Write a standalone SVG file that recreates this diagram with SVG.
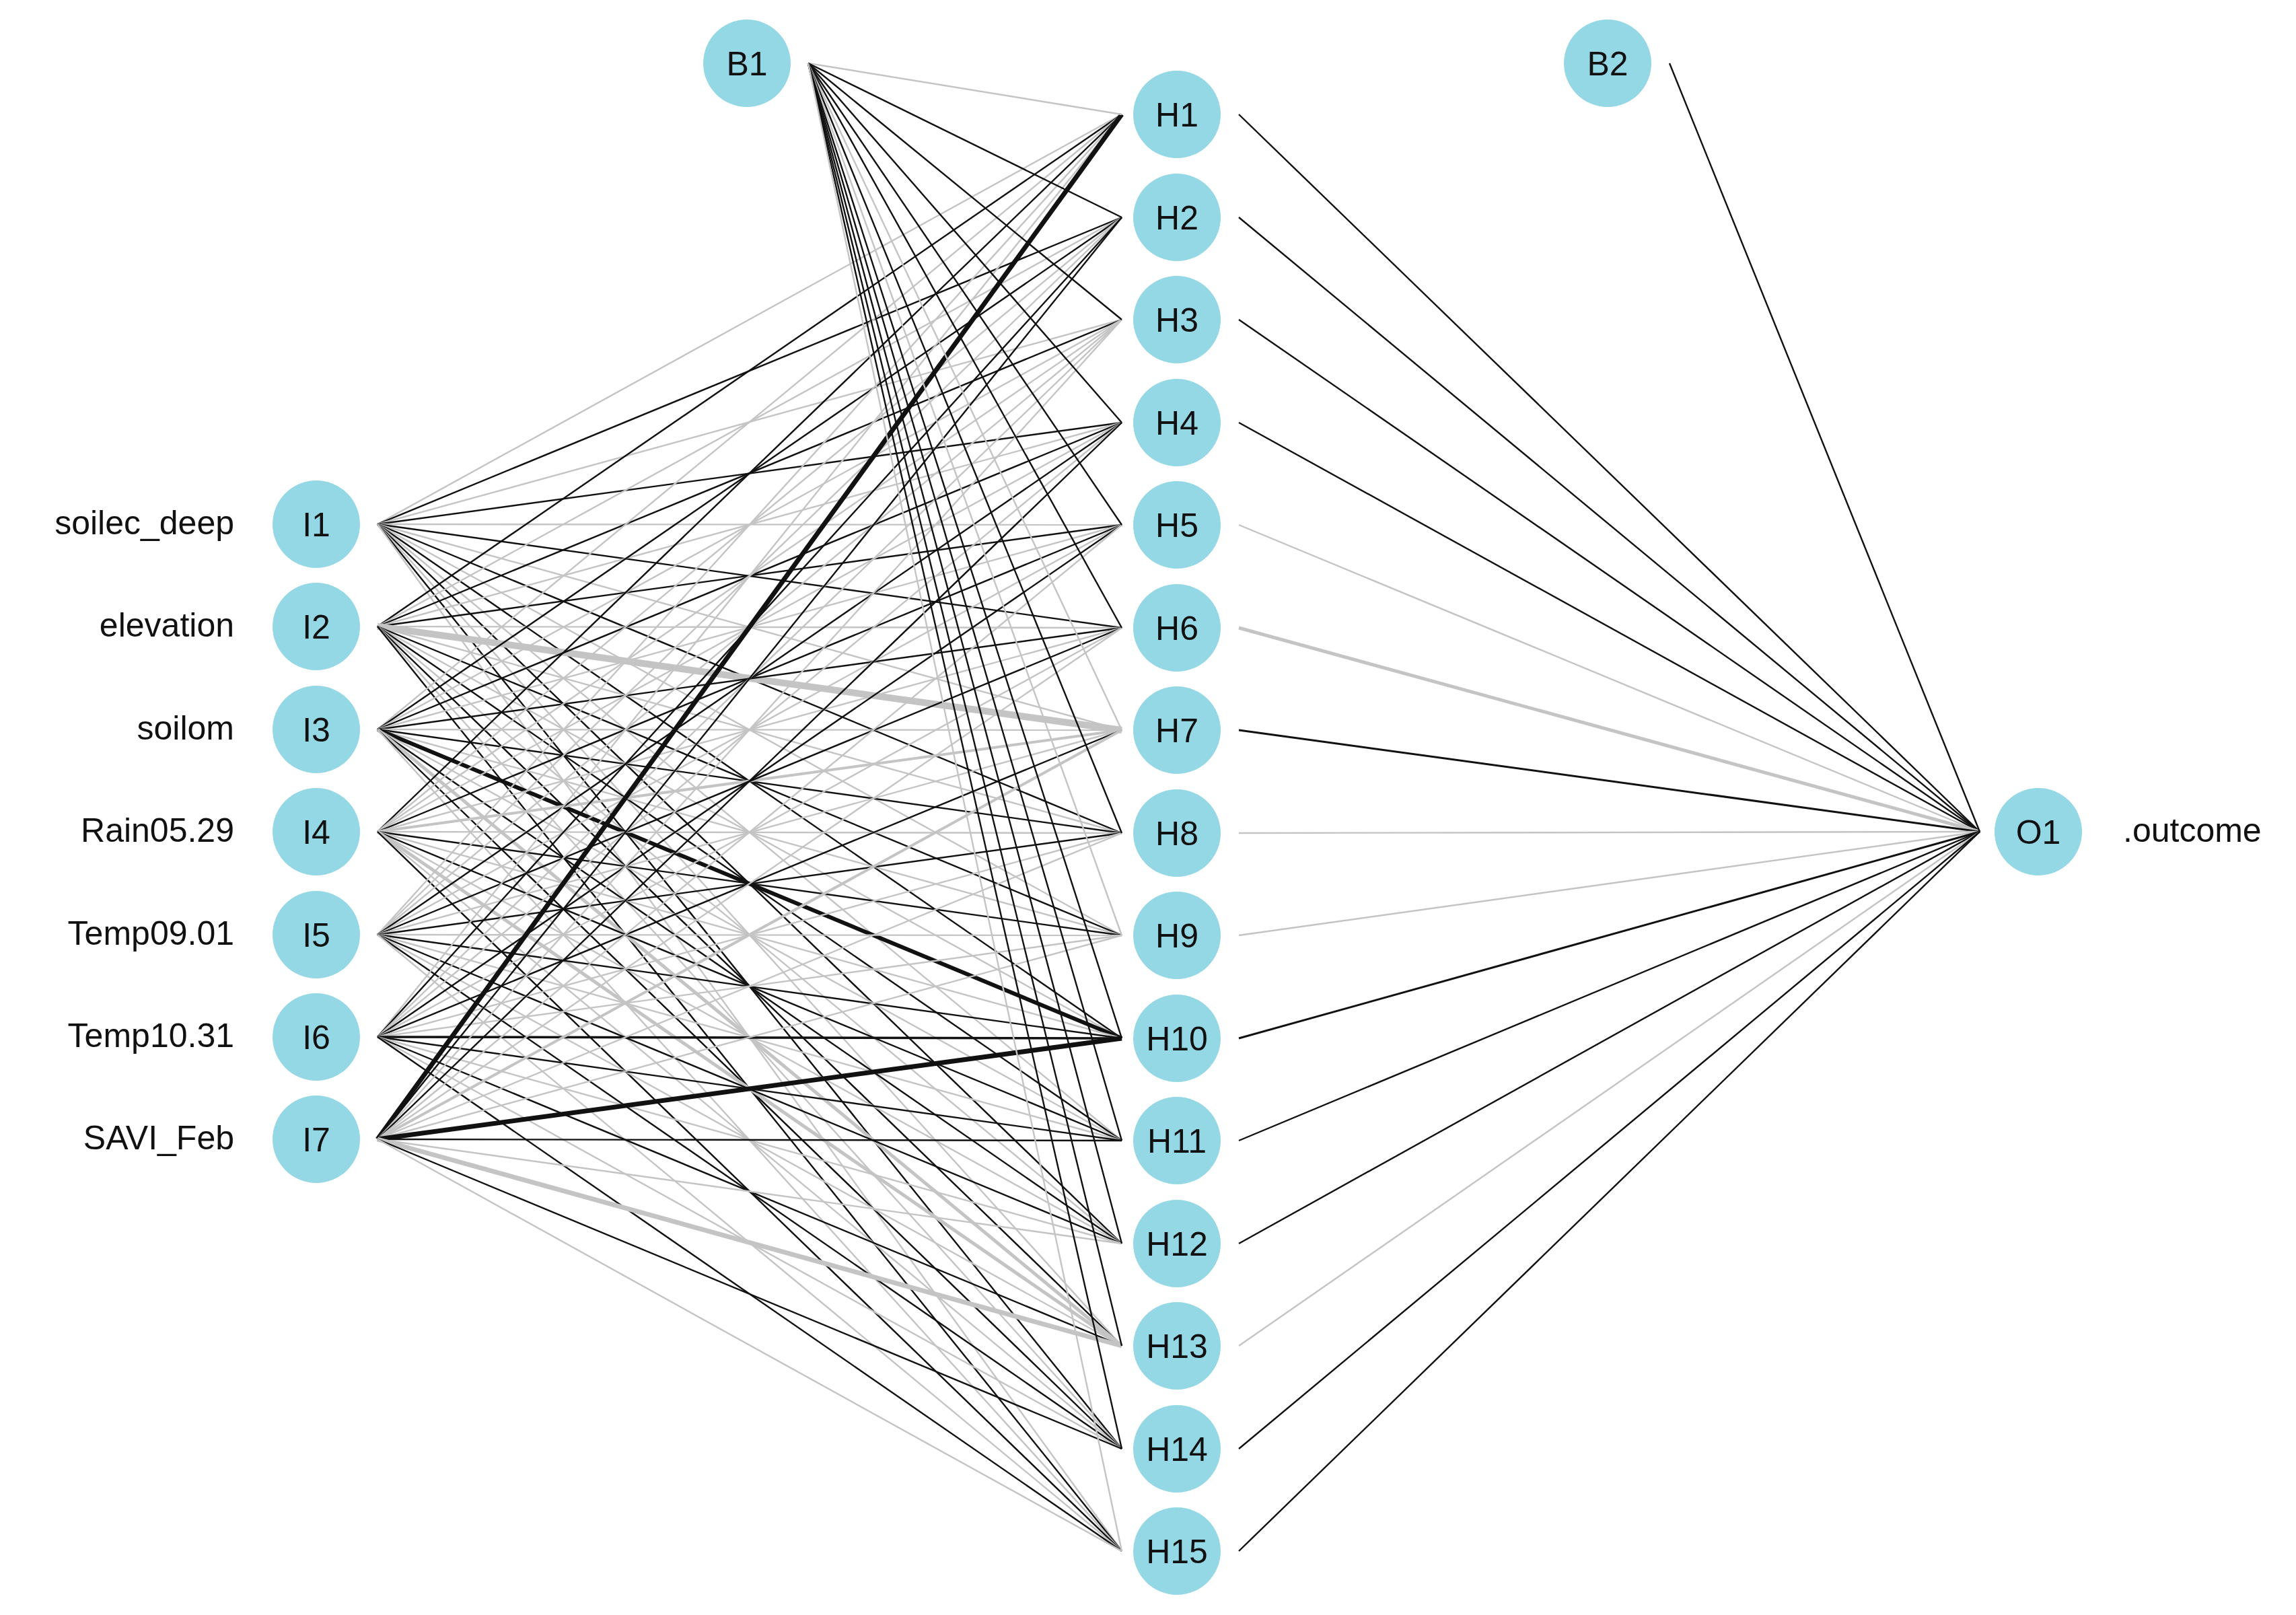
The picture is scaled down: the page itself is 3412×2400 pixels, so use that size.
<svg xmlns="http://www.w3.org/2000/svg" width="3412" height="2400" viewBox="0 0 3412 2400">
<style>
.k{stroke:#111;stroke-width:2.4}
.g{stroke:#c4c4c4;stroke-width:2.4}
.n{fill:#95d8e5}
.t{font-family:"Liberation Sans",Arial,sans-serif;font-size:50px;fill:#111}
</style>
<rect width="3412" height="2400" fill="#fff"/>
<g id="connectors">
<g id="in1">
<line x1="561" y1="779" x2="1667" y2="170" class="g"/><line x1="561" y1="779" x2="1667" y2="323" class="k"/><line x1="561" y1="779" x2="1667" y2="475" class="g"/><line x1="561" y1="779" x2="1667" y2="628" class="k"/><line x1="561" y1="779" x2="1667" y2="780" class="g"/><line x1="561" y1="779" x2="1667" y2="933" class="k"/><line x1="561" y1="779" x2="1667" y2="1085" class="g"/><line x1="561" y1="779" x2="1667" y2="1238" class="k"/><line x1="561" y1="779" x2="1667" y2="1390" class="g"/><line x1="561" y1="779" x2="1667" y2="1543" class="k"/><line x1="561" y1="779" x2="1667" y2="1695" class="g"/><line x1="561" y1="779" x2="1667" y2="1848" class="k"/><line x1="561" y1="779" x2="1667" y2="2000" class="g"/><line x1="561" y1="779" x2="1667" y2="2153" class="k"/><line x1="561" y1="779" x2="1667" y2="2305" class="g"/>
</g>
<g id="in2">
<line x1="561" y1="931" x2="1667" y2="170" class="k"/><line x1="561" y1="931" x2="1667" y2="323" class="g"/><line x1="561" y1="931" x2="1667" y2="475" class="k"/><line x1="561" y1="931" x2="1667" y2="628" class="g"/><line x1="561" y1="931" x2="1667" y2="780" class="k"/><line x1="561" y1="931" x2="1667" y2="933" class="g"/><line x1="561" y1="931" x2="1667" y2="1085" class="g" style="stroke-width:10"/><line x1="561" y1="931" x2="1667" y2="1238" class="g"/><line x1="561" y1="931" x2="1667" y2="1390" class="k"/><line x1="561" y1="931" x2="1667" y2="1543" class="g"/><line x1="561" y1="931" x2="1667" y2="1695" class="k"/><line x1="561" y1="931" x2="1667" y2="1848" class="g"/><line x1="561" y1="931" x2="1667" y2="2000" class="k"/><line x1="561" y1="931" x2="1667" y2="2153" class="g"/><line x1="561" y1="931" x2="1667" y2="2305" class="k"/>
</g>
<g id="in3">
<line x1="561" y1="1084" x2="1667" y2="170" class="g"/><line x1="561" y1="1084" x2="1667" y2="323" class="k"/><line x1="561" y1="1084" x2="1667" y2="475" class="g"/><line x1="561" y1="1084" x2="1667" y2="628" class="k"/><line x1="561" y1="1084" x2="1667" y2="780" class="g"/><line x1="561" y1="1084" x2="1667" y2="933" class="k"/><line x1="561" y1="1084" x2="1667" y2="1085" class="g"/><line x1="561" y1="1084" x2="1667" y2="1238" class="k"/><line x1="561" y1="1084" x2="1667" y2="1390" class="g"/><line x1="561" y1="1084" x2="1667" y2="1543" class="k" style="stroke-width:6"/><line x1="561" y1="1084" x2="1667" y2="1695" class="g"/><line x1="561" y1="1084" x2="1667" y2="1848" class="k"/><line x1="561" y1="1084" x2="1667" y2="2000" class="g" style="stroke-width:5"/><line x1="561" y1="1084" x2="1667" y2="2153" class="k"/><line x1="561" y1="1084" x2="1667" y2="2305" class="g"/>
</g>
<g id="in4">
<line x1="561" y1="1236" x2="1667" y2="170" class="k"/><line x1="561" y1="1236" x2="1667" y2="323" class="g"/><line x1="561" y1="1236" x2="1667" y2="475" class="g"/><line x1="561" y1="1236" x2="1667" y2="628" class="g"/><line x1="561" y1="1236" x2="1667" y2="780" class="k"/><line x1="561" y1="1236" x2="1667" y2="933" class="g"/><line x1="561" y1="1236" x2="1667" y2="1085" class="g" style="stroke-width:4"/><line x1="561" y1="1236" x2="1667" y2="1238" class="g"/><line x1="561" y1="1236" x2="1667" y2="1390" class="k"/><line x1="561" y1="1236" x2="1667" y2="1543" class="g"/><line x1="561" y1="1236" x2="1667" y2="1695" class="k"/><line x1="561" y1="1236" x2="1667" y2="1848" class="g"/><line x1="561" y1="1236" x2="1667" y2="2000" class="g" style="stroke-width:5"/><line x1="561" y1="1236" x2="1667" y2="2153" class="g"/><line x1="561" y1="1236" x2="1667" y2="2305" class="k"/>
</g>
<g id="in5">
<line x1="561" y1="1389" x2="1667" y2="170" class="g"/><line x1="561" y1="1389" x2="1667" y2="323" class="g"/><line x1="561" y1="1389" x2="1667" y2="475" class="g"/><line x1="561" y1="1389" x2="1667" y2="628" class="k"/><line x1="561" y1="1389" x2="1667" y2="780" class="g"/><line x1="561" y1="1389" x2="1667" y2="933" class="k"/><line x1="561" y1="1389" x2="1667" y2="1085" class="g"/><line x1="561" y1="1389" x2="1667" y2="1238" class="k"/><line x1="561" y1="1389" x2="1667" y2="1390" class="g"/><line x1="561" y1="1389" x2="1667" y2="1543" class="k"/><line x1="561" y1="1389" x2="1667" y2="1695" class="g"/><line x1="561" y1="1389" x2="1667" y2="1848" class="k"/><line x1="561" y1="1389" x2="1667" y2="2000" class="g"/><line x1="561" y1="1389" x2="1667" y2="2153" class="k"/><line x1="561" y1="1389" x2="1667" y2="2305" class="g"/>
</g>
<g id="in6">
<line x1="561" y1="1541" x2="1667" y2="170" class="g"/><line x1="561" y1="1541" x2="1667" y2="323" class="k"/><line x1="561" y1="1541" x2="1667" y2="475" class="g"/><line x1="561" y1="1541" x2="1667" y2="628" class="g"/><line x1="561" y1="1541" x2="1667" y2="780" class="k"/><line x1="561" y1="1541" x2="1667" y2="933" class="g"/><line x1="561" y1="1541" x2="1667" y2="1085" class="k"/><line x1="561" y1="1541" x2="1667" y2="1238" class="g"/><line x1="561" y1="1541" x2="1667" y2="1390" class="g"/><line x1="561" y1="1541" x2="1667" y2="1543" class="k" style="stroke-width:3.5"/><line x1="561" y1="1541" x2="1667" y2="1695" class="k"/><line x1="561" y1="1541" x2="1667" y2="1848" class="g"/><line x1="561" y1="1541" x2="1667" y2="2000" class="k"/><line x1="561" y1="1541" x2="1667" y2="2153" class="g"/><line x1="561" y1="1541" x2="1667" y2="2305" class="k"/>
</g>
<g id="in7">
<line x1="561" y1="1693" x2="1667" y2="170" class="k" style="stroke-width:7"/><line x1="561" y1="1693" x2="1667" y2="323" class="k"/><line x1="561" y1="1693" x2="1667" y2="475" class="g"/><line x1="561" y1="1693" x2="1667" y2="628" class="k"/><line x1="561" y1="1693" x2="1667" y2="780" class="g"/><line x1="561" y1="1693" x2="1667" y2="933" class="g"/><line x1="561" y1="1693" x2="1667" y2="1085" class="g" style="stroke-width:4"/><line x1="561" y1="1693" x2="1667" y2="1238" class="g"/><line x1="561" y1="1693" x2="1667" y2="1390" class="g"/><line x1="561" y1="1693" x2="1667" y2="1543" class="k" style="stroke-width:7"/><line x1="561" y1="1693" x2="1667" y2="1695" class="k"/><line x1="561" y1="1693" x2="1667" y2="1848" class="g"/><line x1="561" y1="1693" x2="1667" y2="2000" class="g" style="stroke-width:7"/><line x1="561" y1="1693" x2="1667" y2="2153" class="k"/><line x1="561" y1="1693" x2="1667" y2="2305" class="g"/>
</g>
<g id="bias1">
<line x1="1201" y1="94" x2="1667" y2="170" class="g"/><line x1="1201" y1="94" x2="1667" y2="323" class="k"/><line x1="1201" y1="94" x2="1667" y2="475" class="k"/><line x1="1201" y1="94" x2="1667" y2="628" class="k"/><line x1="1201" y1="94" x2="1667" y2="780" class="k"/><line x1="1201" y1="94" x2="1667" y2="933" class="k"/><line x1="1201" y1="94" x2="1667" y2="1085" class="g"/><line x1="1201" y1="94" x2="1667" y2="1238" class="k"/><line x1="1201" y1="94" x2="1667" y2="1390" class="g"/><line x1="1201" y1="94" x2="1667" y2="1543" class="k"/><line x1="1201" y1="94" x2="1667" y2="1695" class="k"/><line x1="1201" y1="94" x2="1667" y2="1848" class="k"/><line x1="1201" y1="94" x2="1667" y2="2000" class="k"/><line x1="1201" y1="94" x2="1667" y2="2153" class="k"/><line x1="1201" y1="94" x2="1667" y2="2305" class="g"/>
</g>
<g id="out">
<line x1="1841" y1="170" x2="2942" y2="1236" class="k"/><line x1="1841" y1="323" x2="2942" y2="1236" class="k"/><line x1="1841" y1="475" x2="2942" y2="1236" class="k"/><line x1="1841" y1="628" x2="2942" y2="1236" class="k"/><line x1="1841" y1="780" x2="2942" y2="1236" class="g"/><line x1="1841" y1="933" x2="2942" y2="1236" class="g" style="stroke-width:5"/><line x1="1841" y1="1085" x2="2942" y2="1236" class="k" style="stroke-width:3"/><line x1="1841" y1="1238" x2="2942" y2="1236" class="g"/><line x1="1841" y1="1390" x2="2942" y2="1236" class="g"/><line x1="1841" y1="1543" x2="2942" y2="1236" class="k" style="stroke-width:3"/><line x1="1841" y1="1695" x2="2942" y2="1236" class="k"/><line x1="1841" y1="1848" x2="2942" y2="1236" class="k"/><line x1="1841" y1="2000" x2="2942" y2="1236" class="g"/><line x1="1841" y1="2153" x2="2942" y2="1236" class="k"/><line x1="1841" y1="2305" x2="2942" y2="1236" class="k"/>
<line x1="2481" y1="94" x2="2942" y2="1236" class="k"/>
</g>
</g>
<g id="I1"><circle cx="470" cy="779" r="65" class="n"/><text x="470" y="797" text-anchor="middle" class="t">I1</text><text x="348" y="794" text-anchor="end" class="t">soilec_deep</text></g>
<g id="I2"><circle cx="470" cy="931" r="65" class="n"/><text x="470" y="949" text-anchor="middle" class="t">I2</text><text x="348" y="946" text-anchor="end" class="t">elevation</text></g>
<g id="I3"><circle cx="470" cy="1084" r="65" class="n"/><text x="470" y="1102" text-anchor="middle" class="t">I3</text><text x="348" y="1099" text-anchor="end" class="t">soilom</text></g>
<g id="I4"><circle cx="470" cy="1236" r="65" class="n"/><text x="470" y="1254" text-anchor="middle" class="t">I4</text><text x="348" y="1251" text-anchor="end" class="t">Rain05.29</text></g>
<g id="I5"><circle cx="470" cy="1389" r="65" class="n"/><text x="470" y="1407" text-anchor="middle" class="t">I5</text><text x="348" y="1404" text-anchor="end" class="t">Temp09.01</text></g>
<g id="I6"><circle cx="470" cy="1541" r="65" class="n"/><text x="470" y="1559" text-anchor="middle" class="t">I6</text><text x="348" y="1556" text-anchor="end" class="t">Temp10.31</text></g>
<g id="I7"><circle cx="470" cy="1693" r="65" class="n"/><text x="470" y="1711" text-anchor="middle" class="t">I7</text><text x="348" y="1708" text-anchor="end" class="t">SAVI_Feb</text></g>
<g id="B1"><circle cx="1110" cy="94" r="65" class="n"/><text x="1110" y="112" text-anchor="middle" class="t">B1</text></g>
<g id="B2"><circle cx="2389" cy="94" r="65" class="n"/><text x="2389" y="112" text-anchor="middle" class="t">B2</text></g>
<g id="H1"><circle cx="1749" cy="170" r="65" class="n"/><text x="1749" y="188" text-anchor="middle" class="t">H1</text></g>
<g id="H2"><circle cx="1749" cy="323" r="65" class="n"/><text x="1749" y="341" text-anchor="middle" class="t">H2</text></g>
<g id="H3"><circle cx="1749" cy="475" r="65" class="n"/><text x="1749" y="493" text-anchor="middle" class="t">H3</text></g>
<g id="H4"><circle cx="1749" cy="628" r="65" class="n"/><text x="1749" y="646" text-anchor="middle" class="t">H4</text></g>
<g id="H5"><circle cx="1749" cy="780" r="65" class="n"/><text x="1749" y="798" text-anchor="middle" class="t">H5</text></g>
<g id="H6"><circle cx="1749" cy="933" r="65" class="n"/><text x="1749" y="951" text-anchor="middle" class="t">H6</text></g>
<g id="H7"><circle cx="1749" cy="1085" r="65" class="n"/><text x="1749" y="1103" text-anchor="middle" class="t">H7</text></g>
<g id="H8"><circle cx="1749" cy="1238" r="65" class="n"/><text x="1749" y="1256" text-anchor="middle" class="t">H8</text></g>
<g id="H9"><circle cx="1749" cy="1390" r="65" class="n"/><text x="1749" y="1408" text-anchor="middle" class="t">H9</text></g>
<g id="H10"><circle cx="1749" cy="1543" r="65" class="n"/><text x="1749" y="1561" text-anchor="middle" class="t">H10</text></g>
<g id="H11"><circle cx="1749" cy="1695" r="65" class="n"/><text x="1749" y="1713" text-anchor="middle" class="t">H11</text></g>
<g id="H12"><circle cx="1749" cy="1848" r="65" class="n"/><text x="1749" y="1866" text-anchor="middle" class="t">H12</text></g>
<g id="H13"><circle cx="1749" cy="2000" r="65" class="n"/><text x="1749" y="2018" text-anchor="middle" class="t">H13</text></g>
<g id="H14"><circle cx="1749" cy="2153" r="65" class="n"/><text x="1749" y="2171" text-anchor="middle" class="t">H14</text></g>
<g id="H15"><circle cx="1749" cy="2305" r="65" class="n"/><text x="1749" y="2323" text-anchor="middle" class="t">H15</text></g>
<g id="O1"><circle cx="3029" cy="1236" r="65" class="n"/><text x="3029" y="1254" text-anchor="middle" class="t">O1</text><text x="3155" y="1251" class="t">.outcome</text></g>
</svg>
